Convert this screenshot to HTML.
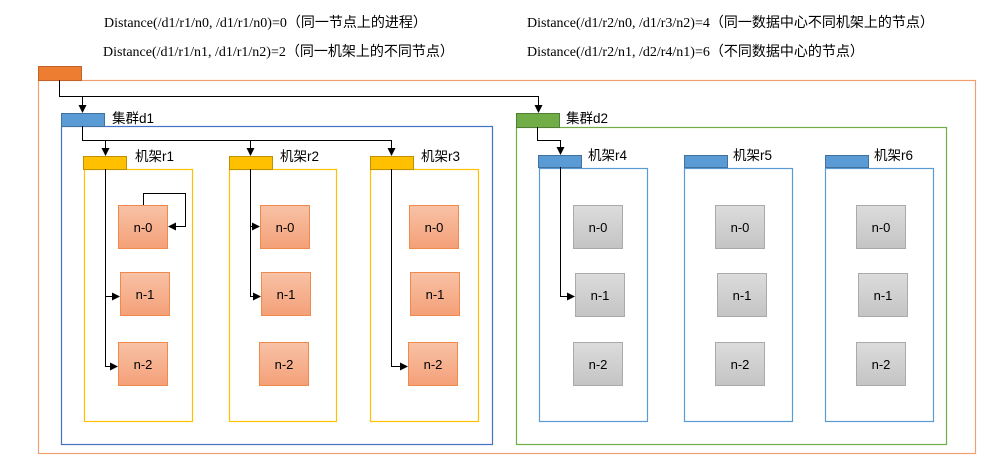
<!DOCTYPE html>
<html><head><meta charset="utf-8"><style>
html,body{margin:0;padding:0;background:#fff;}
svg{display:block}
.t{font-family:"Liberation Serif","Noto Sans CJK SC",serif;font-size:14px;fill:#000}
.l{font-family:"Liberation Sans","Noto Sans CJK SC",sans-serif;font-size:13.5px;fill:#000}
.n{font-family:"Liberation Sans",sans-serif;font-size:13px;fill:#000;text-anchor:middle}
</style></head><body>
<svg width="997" height="461" viewBox="0 0 997 461" xmlns="http://www.w3.org/2000/svg">
<defs>
<linearGradient id="og" x1="0" y1="0" x2="0" y2="1"><stop offset="0" stop-color="#f8c2a6"/><stop offset="1" stop-color="#f4a078"/></linearGradient>
<linearGradient id="gg" x1="0" y1="0" x2="0" y2="1"><stop offset="0" stop-color="#dcdcdc"/><stop offset="1" stop-color="#c4c4c4"/></linearGradient>
<marker id="a" markerWidth="8" markerHeight="8" refX="7" refY="4" orient="auto" markerUnits="userSpaceOnUse"><path d="M0,0 L8,4 L0,8 z" fill="#000"/></marker>
</defs>
<text class="t" x="104" y="27">Distance(/d1/r1/n0, /d1/r1/n0)=0（同一节点上的进程）</text>
<text class="t" x="103" y="56">Distance(/d1/r1/n1, /d1/r1/n2)=2（同一机架上的不同节点）</text>
<text class="t" x="527" y="27">Distance(/d1/r2/n0, /d1/r3/n2)=4（同一数据中心不同机架上的节点）</text>
<text class="t" x="527" y="56">Distance(/d1/r2/n1, /d2/r4/n1)=6（不同数据中心的节点）</text>

<rect x="38.5" y="80.5" width="937" height="373" fill="none" stroke="#f0a070" stroke-width="1.2"/>
<rect x="38.5" y="66.5" width="43" height="14" fill="#ed7d31" stroke="#c0622a"/>
<rect x="61.5" y="126.5" width="431" height="318" fill="none" stroke="#4472c4" stroke-width="1.2"/>
<rect x="61.5" y="113.5" width="43" height="13" fill="#5b9bd5" stroke="#41719c"/>
<text class="l" x="112" y="123">集群d1</text>
<rect x="516.5" y="127.5" width="430" height="317" fill="none" stroke="#70ad47" stroke-width="1.2"/>
<rect x="516.5" y="113.5" width="43" height="14" fill="#70ad47" stroke="#507e32"/>
<text class="l" x="566" y="123">集群d2</text>

<g fill="none" stroke="#ffc000" stroke-width="1.2">
<rect x="84.5" y="169.5" width="108" height="252"/>
<rect x="229.5" y="169.5" width="107" height="252"/>
<rect x="370.5" y="169.5" width="108" height="252"/>
</g>
<g fill="#ffc000" stroke="#bf9000">
<rect x="83.5" y="156.5" width="43" height="13"/>
<rect x="229.5" y="156.5" width="43" height="13"/>
<rect x="370.5" y="156.5" width="43" height="13"/>
</g>
<text class="l" x="135" y="161">机架r1</text>
<text class="l" x="280" y="161">机架r2</text>
<text class="l" x="421" y="161">机架r3</text>

<g fill="none" stroke="#5b9bd5" stroke-width="1.2">
<rect x="539.5" y="168.5" width="108" height="253"/>
<rect x="684.5" y="168.5" width="108" height="253"/>
<rect x="825.5" y="168.5" width="108" height="253"/>
</g>
<g fill="#5b9bd5" stroke="#41719c">
<rect x="538.5" y="155.5" width="43" height="12"/>
<rect x="684.5" y="155.5" width="43" height="12"/>
<rect x="825.5" y="155.5" width="43" height="12"/>
</g>
<text class="l" x="588" y="160">机架r4</text>
<text class="l" x="733" y="160">机架r5</text>
<text class="l" x="874" y="160">机架r6</text>

<g stroke="#f08a4b" fill="url(#og)" stroke-width="1">
<rect x="118.5" y="205.5" width="49" height="43"/><rect x="120.5" y="272.5" width="49" height="43"/><rect x="118.5" y="342.5" width="49" height="43"/>
<rect x="260.5" y="205.5" width="49" height="43"/><rect x="261.5" y="272.5" width="49" height="43"/><rect x="259.5" y="342.5" width="49" height="43"/>
<rect x="409.5" y="205.5" width="49" height="43"/><rect x="410.5" y="272.5" width="49" height="43"/><rect x="408.5" y="342.5" width="49" height="43"/>
</g>
<g stroke="#aaaaaa" fill="url(#gg)" stroke-width="1">
<rect x="573.5" y="205.5" width="49" height="43"/><rect x="575.5" y="273.5" width="49" height="43"/><rect x="573.5" y="342.5" width="49" height="43"/>
<rect x="715.5" y="205.5" width="49" height="43"/><rect x="717.5" y="273.5" width="49" height="43"/><rect x="715.5" y="342.5" width="49" height="43"/>
<rect x="856.5" y="205.5" width="49" height="43"/><rect x="858.5" y="273.5" width="49" height="43"/><rect x="856.5" y="342.5" width="49" height="43"/>
</g>
<g>
<text class="n" x="143" y="232">n-0</text><text class="n" x="145" y="299">n-1</text><text class="n" x="143" y="369">n-2</text>
<text class="n" x="285" y="232">n-0</text><text class="n" x="286" y="299">n-1</text><text class="n" x="284" y="369">n-2</text>
<text class="n" x="434" y="232">n-0</text><text class="n" x="435" y="299">n-1</text><text class="n" x="433" y="369">n-2</text>
<text class="n" x="598" y="232">n-0</text><text class="n" x="600" y="300">n-1</text><text class="n" x="598" y="369">n-2</text>
<text class="n" x="740" y="232">n-0</text><text class="n" x="742" y="300">n-1</text><text class="n" x="740" y="369">n-2</text>
<text class="n" x="881" y="232">n-0</text><text class="n" x="883" y="300">n-1</text><text class="n" x="881" y="369">n-2</text>
</g>

<g fill="none" stroke="#000" stroke-width="1">
<path d="M59.5,80 V96.5 H538.5 V112" marker-end="url(#a)"/>
<path d="M82.5,96.5 V112" marker-end="url(#a)"/>
<path d="M82.5,126 V140.5 H391.5 V155" marker-end="url(#a)"/>
<path d="M105.5,140.5 V155" marker-end="url(#a)"/>
<path d="M250.5,140.5 V155" marker-end="url(#a)"/>
<path d="M537.5,127 V140.5 H560.5 V154" marker-end="url(#a)"/>
<path d="M105.5,169 V366.5 H117" marker-end="url(#a)"/>
<path d="M105.5,296.5 H119" marker-end="url(#a)"/>
<path d="M143.5,205 V193.5 H185.5 V226.5 H169" marker-end="url(#a)"/>
<path d="M250.5,169 V296.5 H260" marker-end="url(#a)"/>
<path d="M250.5,226.5 H259" marker-end="url(#a)"/>
<path d="M391.5,169 V366.5 H407" marker-end="url(#a)"/>
<path d="M560.5,167 V296.5 H574" marker-end="url(#a)"/>
</g>
</svg>
</body></html>
